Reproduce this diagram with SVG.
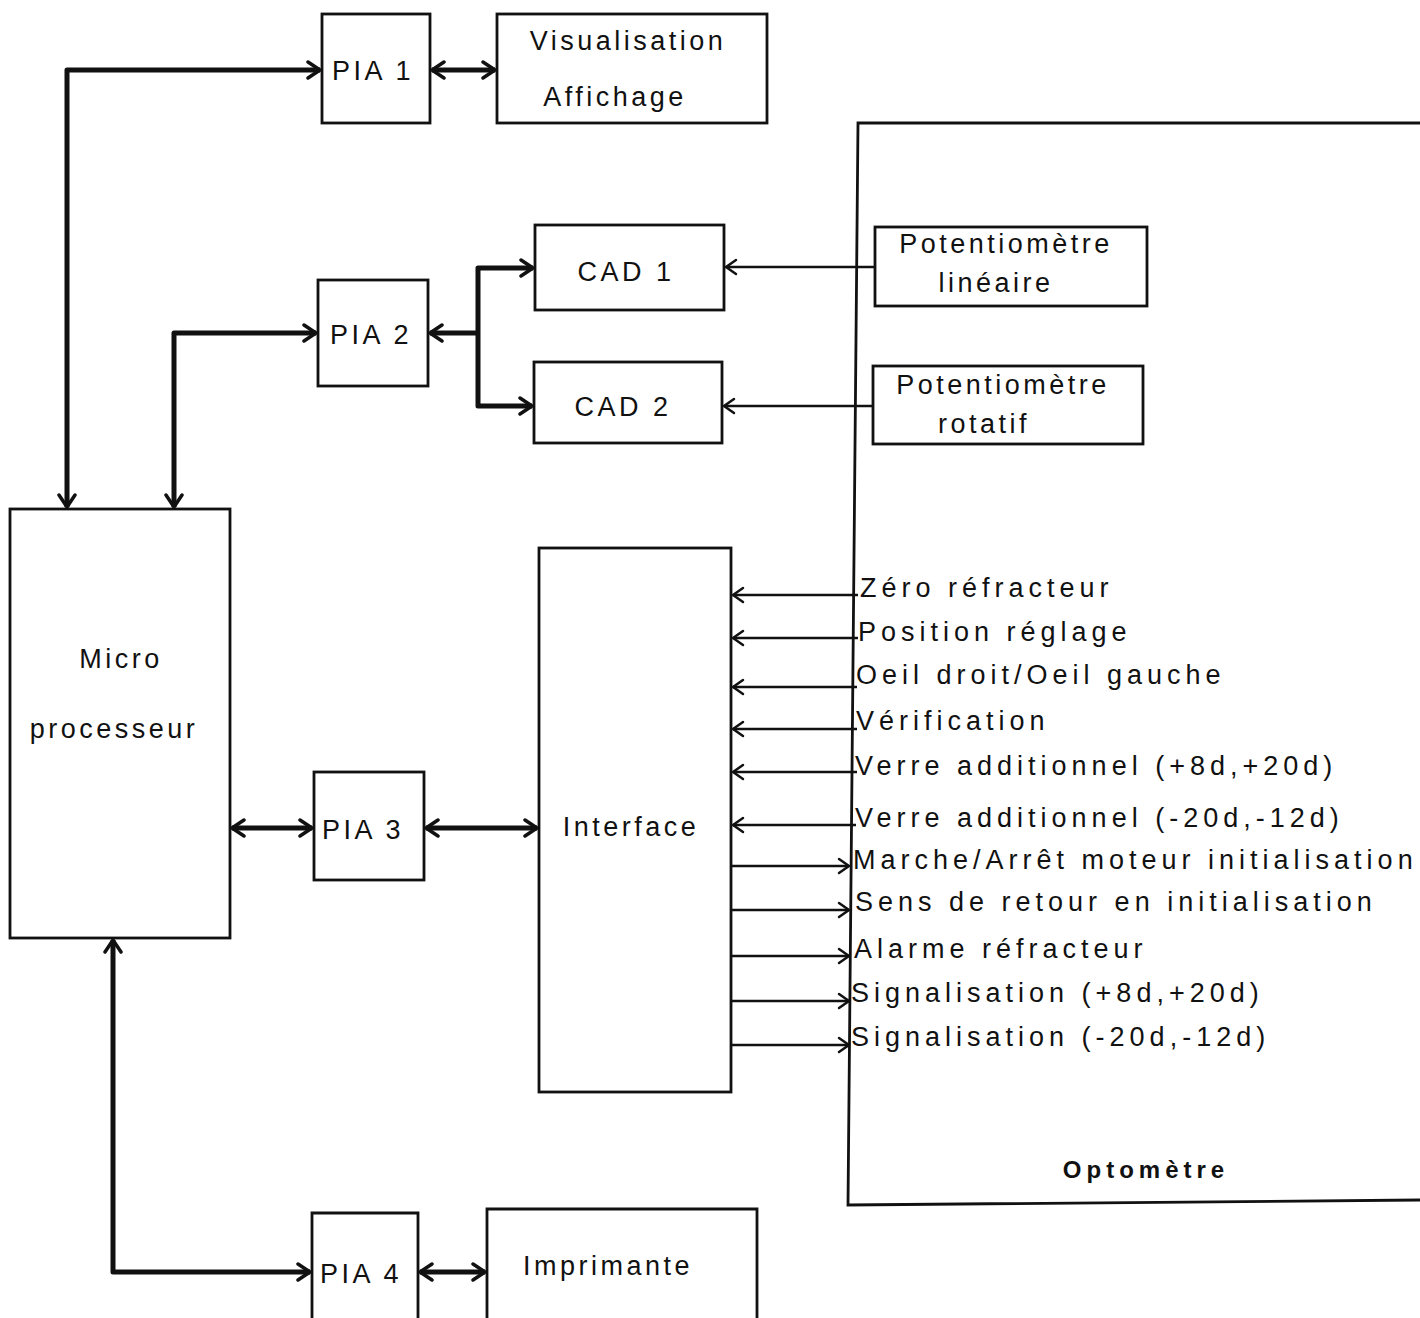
<svg xmlns="http://www.w3.org/2000/svg" width="1420" height="1318" viewBox="0 0 1420 1318">
<style>
.box{fill:none;stroke:#111;stroke-width:2.8}
.t{font-family:"Liberation Sans",Arial,sans-serif;font-size:27px;letter-spacing:3.5px;fill:#111}
.s{letter-spacing:5px}
.c{text-anchor:middle}
.b{font-weight:bold;font-size:24px;letter-spacing:5px}
.thick{fill:none;stroke:#111;stroke-width:5;stroke-linejoin:round}
.thin{fill:none;stroke:#111;stroke-width:2.4}
</style>
<defs>
<marker id="ah" markerUnits="userSpaceOnUse" markerWidth="18" markerHeight="20" refX="15" refY="10" orient="auto-start-reverse">
<path d="M3,2 L15,10 L3,18" fill="none" stroke="#111" stroke-width="3.5" stroke-linecap="round" stroke-linejoin="round"/>
</marker>
<marker id="at" markerUnits="userSpaceOnUse" markerWidth="16" markerHeight="18" refX="13" refY="9" orient="auto-start-reverse">
<path d="M3,2 L13,9 L3,16" fill="none" stroke="#111" stroke-width="2.5" stroke-linecap="round" stroke-linejoin="round"/>
</marker>
</defs>
<rect width="1420" height="1318" fill="#fff"/>

<g id="optometre">
<path class="box" d="M1420,123 L858,123 L848,1205 L1420,1200"/>
<text class="t b c" x="1146" y="1178">Optomètre</text>
</g>

<g id="pia1"><rect class="box" x="322" y="14" width="108" height="109"/><text class="t" x="332" y="80">PIA 1</text></g>
<g id="visualisation"><rect class="box" x="497" y="14" width="270" height="109"/><text class="t c" x="628" y="50">Visualisation</text><text class="t c" x="615" y="106">Affichage</text></g>
<g id="pia2"><rect class="box" x="318" y="280" width="110" height="106"/><text class="t" x="330" y="344">PIA 2</text></g>
<g id="cad1"><rect class="box" x="535" y="225" width="189" height="85"/><text class="t c" x="626" y="281">CAD 1</text></g>
<g id="cad2"><rect class="box" x="534" y="362" width="188" height="81"/><text class="t c" x="623" y="416">CAD 2</text></g>
<g id="pot-lineaire"><rect class="box" x="875" y="227" width="272" height="79"/><text class="t c" x="1006" y="253">Potentiomètre</text><text class="t c" x="996" y="292">linéaire</text></g>
<g id="pot-rotatif"><rect class="box" x="873" y="366" width="270" height="78"/><text class="t c" x="1003" y="394">Potentiomètre</text><text class="t c" x="984" y="433">rotatif</text></g>
<g id="micro"><rect class="box" x="10" y="509" width="220" height="429"/><text class="t c" x="121" y="668">Micro</text><text class="t c" x="114" y="738">processeur</text></g>
<g id="pia3"><rect class="box" x="314" y="772" width="110" height="108"/><text class="t" x="322" y="839">PIA 3</text></g>
<g id="interface"><rect class="box" x="539" y="548" width="192" height="544"/><text class="t c" x="631" y="836">Interface</text></g>
<g id="pia4"><path class="box" d="M312,1330 V1213 H418 V1330"/><text class="t" x="320" y="1283">PIA 4</text></g>
<g id="imprimante"><path class="box" d="M487,1330 V1209 H757 V1330"/><text class="t c" x="608" y="1275">Imprimante</text></g>

<g id="labels">
<text class="t s" x="860" y="597">Zéro réfracteur</text>
<text class="t s" x="858" y="641">Position réglage</text>
<text class="t s" x="856" y="684">Oeil droit/Oeil gauche</text>
<text class="t s" x="856" y="730">Vérification</text>
<text class="t s" x="855" y="775">Verre additionnel (+8d,+20d)</text>
<text class="t s" x="855" y="827">Verre additionnel (-20d,-12d)</text>
<text class="t s" x="853" y="869">Marche/Arrêt moteur initialisation</text>
<text class="t s" x="855" y="911">Sens de retour en initialisation</text>
<text class="t s" x="854" y="958">Alarme réfracteur</text>
<text class="t s" x="851" y="1002">Signalisation (+8d,+20d)</text>
<text class="t s" x="851" y="1046">Signalisation (-20d,-12d)</text>
</g>

<g id="connectors">
<path class="thick" d="M67,507 V70 H320" marker-start="url(#ah)" marker-end="url(#ah)"/>
<path class="thick" d="M432,70 H495" marker-start="url(#ah)" marker-end="url(#ah)"/>
<path class="thick" d="M174,507 V333 H316" marker-start="url(#ah)" marker-end="url(#ah)"/>
<path class="thick" d="M478,333 H430" marker-end="url(#ah)"/>
<path class="thick" d="M533,268 H478 V406 H532" marker-start="url(#ah)" marker-end="url(#ah)"/>
<path class="thin" d="M875,267 H726" marker-end="url(#at)"/>
<path class="thin" d="M873,406 H724" marker-end="url(#at)"/>
<path class="thick" d="M232,828 H312" marker-start="url(#ah)" marker-end="url(#ah)"/>
<path class="thick" d="M426,828 H537" marker-start="url(#ah)" marker-end="url(#ah)"/>
<path class="thick" d="M113,940 V1272 H310" marker-start="url(#ah)" marker-end="url(#ah)"/>
<path class="thick" d="M420,1272 H485" marker-start="url(#ah)" marker-end="url(#ah)"/>
<path class="thin" d="M858,595 H733" marker-end="url(#at)"/>
<path class="thin" d="M858,638 H733" marker-end="url(#at)"/>
<path class="thin" d="M857,687 H733" marker-end="url(#at)"/>
<path class="thin" d="M857,729 H733" marker-end="url(#at)"/>
<path class="thin" d="M857,772 H733" marker-end="url(#at)"/>
<path class="thin" d="M856,825 H733" marker-end="url(#at)"/>
<path class="thin" d="M731,866 H849" marker-end="url(#at)"/>
<path class="thin" d="M731,910 H849" marker-end="url(#at)"/>
<path class="thin" d="M731,956 H849" marker-end="url(#at)"/>
<path class="thin" d="M731,1001 H849" marker-end="url(#at)"/>
<path class="thin" d="M731,1045 H849" marker-end="url(#at)"/>
</g>
</svg>
